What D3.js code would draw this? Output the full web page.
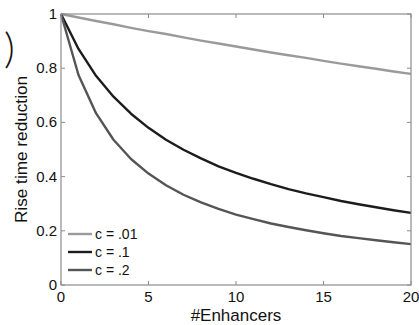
<!DOCTYPE html>
<html>
<head>
<meta charset="utf-8">
<script src="https://cdn.jsdelivr.net/npm/d3@7"></script>
<style>
  body { margin: 0; background: #fff; }
  svg { display: block; }
  text { font-family: "Liberation Sans", Arial, sans-serif; fill: #111; }
</style>
</head>
<body>
<svg id="chart" width="419" height="325"></svg>
<script>
// Number of enhancers (x) and rise-time reduction for each coupling c
const enhancers = d3.range(0, 21);
const seriesNames = ["c = .01", "c = .1", "c = .2"];
const valuesC001 = [1, 0.987, 0.974, 0.962, 0.949, 0.937, 0.926, 0.914, 0.902, 0.891, 0.880,
                    0.869, 0.858, 0.848, 0.838, 0.827, 0.817, 0.807, 0.798, 0.788, 0.779];
const valuesC01  = [1, 0.871, 0.772, 0.695, 0.632, 0.580, 0.536, 0.499, 0.467, 0.438, 0.414,
                    0.392, 0.372, 0.354, 0.338, 0.324, 0.310, 0.298, 0.287, 0.276, 0.266];
const valuesC02  = [1, 0.775, 0.634, 0.536, 0.465, 0.411, 0.368, 0.333, 0.305, 0.281, 0.260,
                    0.243, 0.227, 0.214, 0.202, 0.191, 0.181, 0.173, 0.165, 0.158, 0.151];
const xTicks = [0, 5, 10, 15, 20];
const yTicks = [0, 0.2, 0.4, 0.6, 0.8, 1];
const yTickLabels = ["0", "0.2", "0.4", "0.6", "0.8", "1"];
const seriesColors = ["#9a9a9a", "#1c1c1c", "#555555"];

const svg = d3.select("#chart");
const plotLeft = 61, plotRight = 411, plotTop = 14, plotBottom = 285;

const x = d3.scaleLinear().domain([0, 20]).range([plotLeft, plotRight]);
const y = d3.scaleLinear().domain([0, 1]).range([plotBottom, plotTop]);

const axisColor = "#8c8c8c";

// panel letter fragment at the left edge
svg.append("text").attr("x", 4).attr("y", 63)
  .style("font-family", "Lato, 'Liberation Sans', sans-serif")
  .attr("font-size", 42).attr("font-weight", 300).text(")");

// curves, straight segments between integer enhancer counts
const series = [valuesC001, valuesC01, valuesC02];
const line = d3.line().x((d, i) => x(enhancers[i])).y(d => y(d)).curve(d3.curveLinear);
series.forEach((vals, k) => {
  svg.append("path").datum(vals)
    .attr("d", line)
    .attr("fill", "none")
    .attr("stroke", seriesColors[k])
    .attr("stroke-width", 2.4)
    .attr("stroke-linejoin", "round");
});

// axis box
svg.append("rect").attr("x", plotLeft).attr("y", plotTop)
  .attr("width", plotRight - plotLeft).attr("height", plotBottom - plotTop)
  .attr("fill", "none").attr("stroke", axisColor).attr("stroke-width", 1.2);

// ticks: inward on all four sides
const tl = 4;
const g = svg.append("g").attr("stroke", axisColor).attr("stroke-width", 1);
xTicks.forEach(t => {
  g.append("line").attr("x1", x(t)).attr("x2", x(t)).attr("y1", plotBottom).attr("y2", plotBottom - tl);
  g.append("line").attr("x1", x(t)).attr("x2", x(t)).attr("y1", plotTop).attr("y2", plotTop + tl);
});
yTicks.forEach(t => {
  g.append("line").attr("x1", plotLeft).attr("x2", plotLeft + tl).attr("y1", y(t)).attr("y2", y(t));
  g.append("line").attr("x1", plotRight).attr("x2", plotRight - tl).attr("y1", y(t)).attr("y2", y(t));
});

// tick labels
xTicks.forEach(t => {
  svg.append("text").attr("x", x(t)).attr("y", plotBottom + 17)
    .attr("text-anchor", "middle").attr("font-size", 15).text(String(t));
});
yTicks.forEach((t, i) => {
  svg.append("text").attr("x", plotLeft - 4).attr("y", y(t) + 5)
    .attr("text-anchor", "end").attr("font-size", 15).text(yTickLabels[i]);
});

// axis titles
svg.append("text").attr("x", x(10)).attr("y", 321)
  .attr("text-anchor", "middle").attr("font-size", 17).text("#Enhancers");
svg.append("text")
  .attr("transform", `translate(27,${(plotTop + plotBottom) / 2}) rotate(-90)`)
  .attr("text-anchor", "middle").attr("font-size", 17.2).text("Rise time reduction");

// legend
seriesNames.forEach((name, k) => {
  const ly = 234 + k * 18;
  svg.append("line").attr("x1", 68).attr("x2", 92).attr("y1", ly).attr("y2", ly)
    .attr("stroke", seriesColors[k]).attr("stroke-width", 2.4);
  svg.append("text").attr("x", 95).attr("y", ly + 5)
    .attr("font-size", 14).text(name);
});
</script>
</body>
</html>
